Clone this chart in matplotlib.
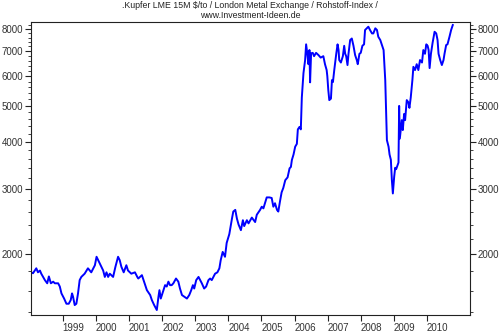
import numpy as np
import matplotlib
matplotlib.use("Agg")
import matplotlib.pyplot as plt
from matplotlib.ticker import FixedLocator, NullFormatter, FixedFormatter

# copper price (USD/t); x = decimal year
years = [
    1998.04, 1998.10, 1998.20, 1998.25, 1998.31, 1998.35, 1998.46, 1998.53, 1998.58, 1998.64,
    1998.71, 1998.76, 1998.86, 1998.91, 1998.96, 1999.04, 1999.11, 1999.18, 1999.24, 1999.28,
    1999.31, 1999.36, 1999.41, 1999.46, 1999.51, 1999.56, 1999.66, 1999.76, 1999.86, 1999.97,
    2000.02, 2000.07, 2000.12, 2000.22, 2000.27, 2000.32, 2000.37, 2000.42, 2000.52, 2000.59,
    2000.67, 2000.72, 2000.77, 2000.84, 2000.92, 2000.97, 2001.07, 2001.18, 2001.25, 2001.28,
    2001.39, 2001.44, 2001.54, 2001.64, 2001.69, 2001.76, 2001.84, 2001.89, 2001.92, 2001.96,
    2002.04, 2002.09, 2002.14, 2002.19, 2002.24, 2002.29, 2002.34, 2002.42, 2002.49, 2002.54,
    2002.60, 2002.67, 2002.75, 2002.82, 2002.88, 2002.93, 2002.97, 2003.03, 2003.10, 2003.15,
    2003.20, 2003.27, 2003.33, 2003.40, 2003.45, 2003.50, 2003.60, 2003.67, 2003.73, 2003.77,
    2003.83, 2003.90, 2003.95, 2004.03, 2004.11, 2004.15, 2004.21, 2004.26, 2004.31, 2004.38,
    2004.44, 2004.48, 2004.56, 2004.61, 2004.71, 2004.81, 2004.86, 2004.96, 2005.01, 2005.06,
    2005.16, 2005.24, 2005.31, 2005.36, 2005.41, 2005.47, 2005.51, 2005.56, 2005.61, 2005.66,
    2005.72, 2005.79, 2005.85, 2005.89, 2005.92, 2005.97, 2006.02, 2006.07, 2006.10, 2006.15,
    2006.19, 2006.22, 2006.27, 2006.32, 2006.35, 2006.39, 2006.42, 2006.45, 2006.47, 2006.50,
    2006.55, 2006.59, 2006.65, 2006.72, 2006.79, 2006.87, 2006.92, 2006.97, 2006.99, 2007.02,
    2007.05, 2007.10, 2007.13, 2007.16, 2007.20, 2007.26, 2007.30, 2007.33, 2007.35, 2007.40,
    2007.46, 2007.50, 2007.53, 2007.56, 2007.60, 2007.63, 2007.68, 2007.73, 2007.78, 2007.83,
    2007.88, 2007.91, 2007.96, 2008.00, 2008.05, 2008.10, 2008.13, 2008.18, 2008.23, 2008.28,
    2008.34, 2008.38, 2008.44, 2008.49, 2008.53, 2008.59, 2008.64, 2008.69, 2008.74, 2008.77,
    2008.79, 2008.84, 2008.87, 2008.91, 2008.94, 2008.97, 2009.01, 2009.04, 2009.07, 2009.11,
    2009.14, 2009.16, 2009.18, 2009.24, 2009.27, 2009.31, 2009.34, 2009.39, 2009.44, 2009.47,
    2009.51, 2009.56, 2009.59, 2009.64, 2009.69, 2009.74, 2009.79, 2009.85, 2009.89, 2009.94,
    2009.98, 2010.02, 2010.05, 2010.08, 2010.12, 2010.17, 2010.23, 2010.28, 2010.32, 2010.35,
    2010.40, 2010.45, 2010.50, 2010.53, 2010.58, 2010.62, 2010.68, 2010.73, 2010.78,
]
prices = [
    1790, 1780, 1835, 1790, 1810, 1775, 1706, 1673, 1745, 1673,
    1690, 1673, 1673, 1640, 1572, 1523, 1475, 1475, 1509, 1572,
    1540, 1463, 1475, 1572, 1706, 1740, 1775, 1835, 1790, 1870,
    1970, 1929, 1890, 1810, 1740, 1790, 1740, 1775, 1740, 1852,
    1970, 1929, 1852, 1790, 1870, 1810, 1775, 1790, 1740, 1723,
    1759, 1706, 1604, 1556, 1509, 1463, 1419, 1540, 1604, 1523,
    1604, 1654, 1640, 1690, 1654, 1654, 1673, 1723, 1690, 1620,
    1556, 1540, 1523, 1556, 1604, 1654, 1620, 1706, 1740, 1706,
    1673, 1620, 1640, 1706, 1723, 1706, 1775, 1790, 1835, 1929,
    2030, 1970, 2145, 2265, 2492, 2603, 2630, 2492, 2402, 2321,
    2468, 2380, 2468, 2420, 2508, 2440, 2552, 2630, 2682, 2655,
    2840, 2840, 2830, 2682, 2740, 2630, 2603, 2770, 2930, 3010,
    3158, 3213, 3397, 3427, 3577, 3700, 3882, 3950, 4318, 4385,
    4318, 5253, 6109, 6620, 7293, 6845, 6453, 7041, 5770, 6900,
    6920, 6780, 6920, 6830, 6720, 6780, 6453, 6224, 6000, 5501,
    5172, 5220, 5851, 5780, 6224, 6880, 7293, 7041, 6620, 6519,
    6780, 7228, 6880, 6780, 6419, 6880, 7489, 7560, 7228, 6827,
    6620, 6453, 6880, 6920, 7228, 7293, 7966, 8050, 8130, 7966,
    7800, 7800, 8050, 7966, 7640, 7489, 7262, 7041, 5851, 4750,
    4042, 3882, 3700, 3580, 3158, 2910, 3226, 3410, 3380, 3460,
    3520, 4990, 4080, 4572, 4300, 4750, 4572, 5172, 5100, 4930,
    5253, 5851, 6350, 6224, 6453, 6224, 6620, 6519, 7041, 6880,
    7293, 7228, 7041, 6300, 6880, 7360, 7880, 7800, 7489, 6880,
    6620, 6419, 6620, 6880, 7262, 7293, 7640, 7966, 8214,
]

year_ticks = list(range(1999, 2011))
price_ticks = [2000, 3000, 4000, 5000, 6000, 7000, 8000]
minor_ticks = [v for v in range(1400, 8400, 200) if v not in price_ticks]

plt.rcParams['font.family'] = ['Liberation Sans', 'DejaVu Sans']

fig = plt.figure(figsize=(5.0, 3.33), dpi=100)
ax = fig.add_axes([0.062, 0.054, 0.878, 0.880])

ax.plot(years, prices, color='#0000ff', linewidth=1.4)

ax.set_yscale('log')
ax.set_xlim(1998.04, 2011.30)
ax.set_ylim(1376, 8370)

ax.yaxis.set_major_locator(FixedLocator(price_ticks))
ax.yaxis.set_major_formatter(FixedFormatter([str(v) for v in price_ticks]))
ax.yaxis.set_minor_locator(FixedLocator(minor_ticks))
ax.yaxis.set_minor_formatter(NullFormatter())
ax.yaxis.set_ticks_position('both')
ax.tick_params(axis='y', which='both', labelleft=True, labelright=True)

ax.set_xticks(year_ticks)
ax.set_xticklabels([str(y) for y in year_ticks], ha='left')
ax.xaxis.set_minor_locator(FixedLocator([]))

ax.tick_params(which='major', length=4, width=0.8, color='#222222',
               labelsize=7, labelcolor='#333333', pad=1.5)
ax.tick_params(which='minor', length=2.2, width=0.6, color='#222222')

for s in ax.spines.values():
    s.set_color('#222222')
    s.set_linewidth(0.8)

fig.text(0.5, 0.997, ".Kupfer LME 15M $/to / London Metal Exchange / Rohstoff-Index /\nwww.Investment-Ideen.de",
         ha='center', va='top', fontsize=6.3, color='#222222', linespacing=1.1)

fig.savefig("out.png", dpi=100)
